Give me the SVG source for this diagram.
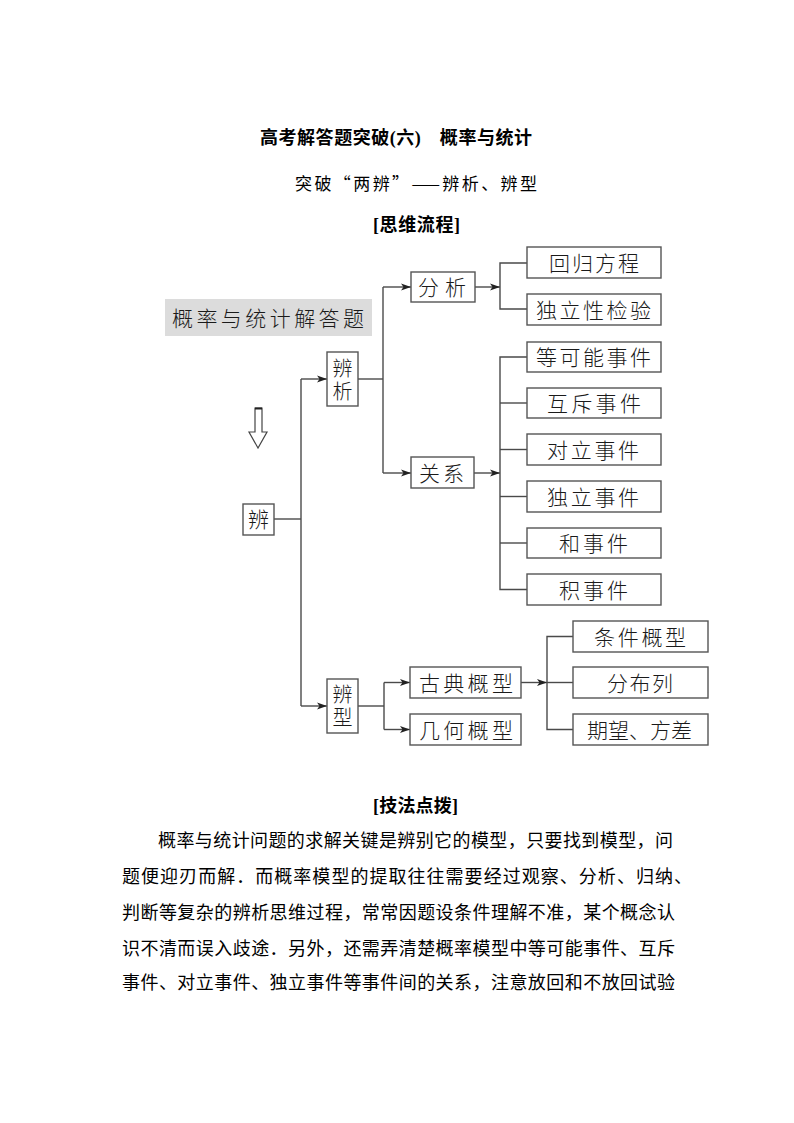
<svg xmlns="http://www.w3.org/2000/svg" width="794" height="1123" viewBox="0 0 794 1123">
<defs>
<marker id="ah" markerUnits="userSpaceOnUse" markerWidth="11" markerHeight="8" refX="10" refY="4" orient="auto">
<path d="M0,0.5 L10,4 L0,7.5 L2.5,4 Z" fill="#222"/>
</marker>
<style>
.bx{fill:#fff;stroke:#555;stroke-width:1.4}
.ln{fill:none;stroke:#4a4a4a;stroke-width:1.4}
.ar{fill:none;stroke:#4a4a4a;stroke-width:1.4;marker-end:url(#ah)}
.lb{font-family:"Noto Sans CJK SC","Noto Sans",sans-serif;font-size:21px;font-weight:300;fill:#1a1a1a}
.vt{writing-mode:vertical-rl;text-anchor:middle;font-size:20px;letter-spacing:3px}
.hd{font-family:"Liberation Serif","Noto Sans CJK SC",serif;font-size:18px;font-weight:bold;fill:#000}
.tx{font-family:"Liberation Serif","Noto Sans CJK SC",serif;font-size:18px;fill:#000}
</style>
</defs>
<rect width="794" height="1123" fill="#fff"/>

<g id="headings">
<text class="hd" x="260" y="144" textLength="272" lengthAdjust="spacing">高考解答题突破(六)　概率与统计</text>
<text x="295" y="190" font-family="Noto Sans CJK SC, sans-serif" font-size="17" fill="#000" textLength="242" lengthAdjust="spacing">突破“两辨”——辨析、辨型</text>
<text class="hd" x="373" y="231" textLength="87" lengthAdjust="spacing">[思维流程]</text>
</g>

<g id="connectors">
<line class="ln" x1="274" y1="519" x2="301" y2="519"/>
<line class="ln" x1="301" y1="379" x2="301" y2="706"/>
<line class="ar" x1="301" y1="379" x2="327" y2="379"/>
<line class="ar" x1="301" y1="706" x2="327" y2="706"/>
<line class="ln" x1="358" y1="379" x2="383" y2="379"/>
<line class="ln" x1="383" y1="287" x2="383" y2="473"/>
<line class="ar" x1="383" y1="287" x2="411" y2="287"/>
<line class="ar" x1="383" y1="473" x2="411" y2="473"/>
<line class="ar" x1="475" y1="287" x2="500" y2="287"/>
<polyline class="ln" points="527,263 500,263 500,309 527,309"/>
<line class="ar" x1="474" y1="473" x2="500" y2="473"/>
<polyline class="ln" points="527,357 500,357 500,589.5 527,589.5"/>
<line class="ln" x1="500" y1="403" x2="527" y2="403"/>
<line class="ln" x1="500" y1="449.5" x2="527" y2="449.5"/>
<line class="ln" x1="500" y1="496.5" x2="527" y2="496.5"/>
<line class="ln" x1="500" y1="543" x2="527" y2="543"/>
<line class="ln" x1="358" y1="706" x2="384" y2="706"/>
<line class="ln" x1="384" y1="682.5" x2="384" y2="729.5"/>
<line class="ar" x1="384" y1="682.5" x2="410" y2="682.5"/>
<line class="ar" x1="384" y1="729.5" x2="410" y2="729.5"/>
<line class="ar" x1="521" y1="682.5" x2="547" y2="682.5"/>
<polyline class="ln" points="573,636.5 547,636.5 547,729.5 573,729.5"/>
<line class="ln" x1="547" y1="682.5" x2="573" y2="682.5"/>
</g>

<g id="n-title">
<rect x="165" y="299" width="207" height="37" fill="#dcdcdc"/>
<text class="lb" x="172" y="326" font-size="23" textLength="192" lengthAdjust="spacing">概率与统计解答题</text>
</g>
<g id="n-down">
<polygon points="255,408 262,408 262,432 267,432 258,448 249,432 255,432" fill="#fff" stroke="#444" stroke-width="1.2"/>
<line x1="255" y1="408.5" x2="262" y2="408.5" stroke="#222" stroke-width="2"/>
</g>
<g id="n-bian">
<rect class="bx" x="243" y="504" width="31" height="31"/>
<text class="lb" x="258.5" y="527" text-anchor="middle" font-size="20">辨</text>
</g>
<g id="n-bianxi">
<rect class="bx" x="327" y="352" width="31" height="54"/>
<text class="lb vt" x="342.5" y="381">辨析</text>
</g>
<g id="n-bianxing">
<rect class="bx" x="327" y="679" width="31" height="54"/>
<text class="lb vt" x="342.5" y="707">辨型</text>
</g>
<g id="n-fenxi">
<rect class="bx" x="411" y="272" width="64" height="30"/>
<text class="lb" x="418" y="295" letter-spacing="6">分析</text>
</g>
<g id="n-guanxi">
<rect class="bx" x="411" y="457" width="63" height="31"/>
<text class="lb" x="419" y="480.5" letter-spacing="3">关系</text>
</g>
<g id="n-huigui">
<rect class="bx" x="527" y="247" width="134" height="31"/>
<text class="lb" x="549" y="270.5" letter-spacing="2">回归方程</text>
</g>
<g id="n-duli">
<rect class="bx" x="527" y="294" width="134" height="31"/>
<text class="lb" x="536" y="317.5" letter-spacing="2.5">独立性检验</text>
</g>
<g id="n-dengkeneng">
<rect class="bx" x="527" y="342" width="134" height="30"/>
<text class="lb" x="536" y="365" letter-spacing="2.5">等可能事件</text>
</g>
<g id="n-huchi">
<rect class="bx" x="527" y="388" width="134" height="30"/>
<text class="lb" x="547" y="411" letter-spacing="3.3">互斥事件</text>
</g>
<g id="n-duili">
<rect class="bx" x="527" y="434" width="134" height="31"/>
<text class="lb" x="547" y="457.5" letter-spacing="2.7">对立事件</text>
</g>
<g id="n-dulishijian">
<rect class="bx" x="527" y="481" width="134" height="31"/>
<text class="lb" x="547" y="504.5" letter-spacing="2.7">独立事件</text>
</g>
<g id="n-he">
<rect class="bx" x="527" y="528" width="134" height="30"/>
<text class="lb" x="559" y="551" letter-spacing="3">和事件</text>
</g>
<g id="n-ji">
<rect class="bx" x="527" y="574" width="134" height="31"/>
<text class="lb" x="559" y="597.5" letter-spacing="3">积事件</text>
</g>
<g id="n-gudian">
<rect class="bx" x="410" y="667" width="111" height="31"/>
<text class="lb" x="419" y="690.5" letter-spacing="3.3">古典概型</text>
</g>
<g id="n-jihe">
<rect class="bx" x="410" y="714" width="111" height="31"/>
<text class="lb" x="419" y="737.5" letter-spacing="3.3">几何概型</text>
</g>
<g id="n-tiaojian">
<rect class="bx" x="573" y="621" width="135" height="31"/>
<text class="lb" x="594" y="644.5" letter-spacing="2.7">条件概型</text>
</g>
<g id="n-fenbu">
<rect class="bx" x="573" y="667" width="135" height="31"/>
<text class="lb" x="607" y="690.5" letter-spacing="1.5">分布列</text>
</g>
<g id="n-qiwang">
<rect class="bx" x="573" y="714" width="135" height="31"/>
<text class="lb" x="587" y="737.5" letter-spacing="0">期望、方差</text>
</g>

<g id="body">
<text class="hd" x="373" y="812" textLength="85" lengthAdjust="spacing">[技法点拨]</text>
<text class="tx" x="158" y="847" textLength="515" lengthAdjust="spacing">概率与统计问题的求解关键是辨别它的模型，只要找到模型，问</text>
<text class="tx" x="122" y="883" textLength="570" lengthAdjust="spacing">题便迎刃而解．而概率模型的提取往往需要经过观察、分析、归纳、</text>
<text class="tx" x="122" y="919" textLength="553" lengthAdjust="spacing">判断等复杂的辨析思维过程，常常因题设条件理解不准，某个概念认</text>
<text class="tx" x="122" y="955" textLength="553" lengthAdjust="spacing">识不清而误入歧途．另外，还需弄清楚概率模型中等可能事件、互斥</text>
<text class="tx" x="122" y="989" textLength="553" lengthAdjust="spacing">事件、对立事件、独立事件等事件间的关系，注意放回和不放回试验</text>
</g>
</svg>
